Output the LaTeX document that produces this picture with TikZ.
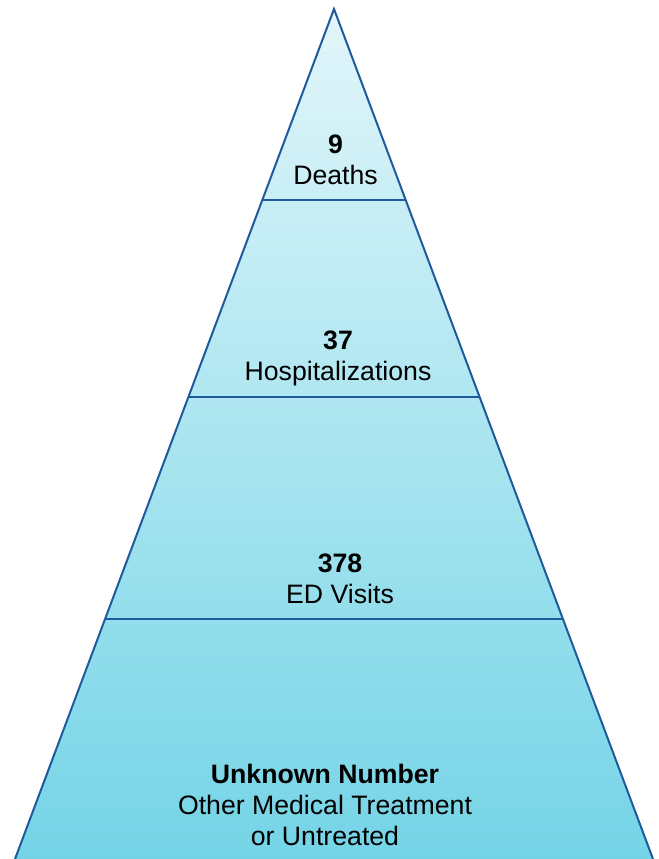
\documentclass[tikz,border=0pt]{standalone}
\usepackage{fontspec}
\setmainfont{Liberation Sans}
\definecolor{edge}{HTML}{1F5A9C}
\definecolor{topc}{HTML}{E2F6FA}
\definecolor{botc}{HTML}{74D4E6}
\begin{document}
\begin{tikzpicture}[x=0.75pt,y=-0.75pt,
  lbl/.style={align=center,font=\fontsize{20}{23.3}\selectfont,text=black,inner sep=0pt},
  divline/.style={draw=edge,line width=1.5pt}]
\useasboundingbox (0,0) rectangle (659,859);
\coordinate (A) at (334,9);
\coordinate (BL) at (15,859);
\coordinate (BR) at (653,859);
\coordinate (L1) at (262.3,200);
\coordinate (R1) at (405.7,200);
\coordinate (L2) at (188.4,397);
\coordinate (R2) at (479.6,397);
\coordinate (L3) at (105.1,619);
\coordinate (R3) at (562.9,619);
\shade[top color=topc,bottom color=botc] (A) -- (BR) -- (BL) -- cycle;
\draw[divline,line join=miter] (BL) -- (A) -- (BR);
\draw[divline] (L1) -- (R1);
\draw[divline] (L2) -- (R2);
\draw[divline] (L3) -- (R3);
\node[lbl] (t1) at (335.5,160) {\textbf{9}\\Deaths};
\node[lbl] (t2) at (338,358) {\textbf{37}\\Hospitalizations};
\node[lbl] (t3) at (340,579) {\textbf{378}\\ED Visits};
\node[lbl] (t4) at (325,805) {\textbf{Unknown Number}\\Other Medical Treatment\\or Untreated};
\end{tikzpicture}
\end{document}
